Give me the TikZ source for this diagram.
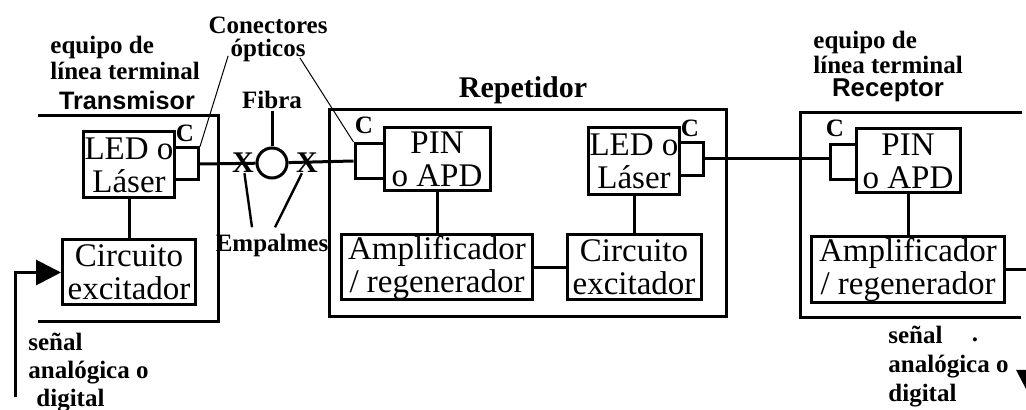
\documentclass[tikz,border=0pt]{standalone}
\usepackage{fontspec}
\setmainfont{Liberation Serif}
\setsansfont{Liberation Sans}
\usetikzlibrary{arrows.meta}

\newcommand{\cajafont}{\fontsize{16.5}{16.5}\selectfont}
\newcommand{\etifont}{\bfseries\fontsize{12.5}{13}\selectfont}

\begin{document}
\begin{tikzpicture}[x=0.5pt, y=-0.5pt]
  \tikzset{
    caja/.style 2 args={draw, line width=1.5pt, inner sep=0pt, align=center, font=\cajafont, minimum width=#1, minimum height=#2},
    conector/.style 2 args={draw, line width=1.5pt, inner sep=0pt, minimum width=#1, minimum height=#2},
    etiqueta/.style={inner sep=1pt, font=\etifont},
    empalme/.style={inner sep=0pt, font=\bfseries\fontsize{15}{15}\selectfont},
    marco/.style={line width=1.5pt},
    enlace/.style={line width=1.5pt},
    guia/.style={line width=0.5pt},
    flecha/.style={line width=1.5pt, -{Triangle[length=12.5pt, width=12.5pt]}}
  }

  \useasboundingbox (0,0) rectangle (1026,410);

  % Equipo de linea terminal: transmisor
  \draw[marco] (38,116) -- (218,116) -- (218,322) -- (38,322);
  \node[etiqueta, align=left, anchor=west] (eqtx) at (48,58) {equipo de\\línea terminal};
  \node[etiqueta, font=\sffamily\bfseries\fontsize{12.6}{13}\selectfont] (tx) at (127,100) {Transmisor};
  \node[caja={45.5pt}{33pt}] (led1) at (129,165) {LED o\\Láser};
  \node[conector={12pt}{16pt}] (con1) at (186.5,164) {};
  \node[etiqueta] (c1) at (185,133) {C};
  \node[caja={66.5pt}{32.5pt}] (exc1) at (129,272.5) {Circuito\\excitador};
  \draw[enlace] (led1) -- (exc1);

  % Entrada de senal
  \coordinate (ent) at (15,397);
  \draw[flecha] (ent) |- (exc1.west);
  \node[etiqueta, align=left, anchor=west, font=\bfseries\fontsize{12.5}{14}\selectfont] (senent) at (26,373) {señal\\analógica o\\\hspace*{4pt}digital};

  % Repetidor
  \draw[marco] (329,110) rectangle (726,317);
  \node[etiqueta, font=\bfseries\fontsize{15}{15}\selectfont] (rep) at (523,90) {Repetidor};
  \node[conector={14.5pt}{17.5pt}] (con2) at (369.5,161) {};
  \node[etiqueta] (c2) at (364,125) {C};
  \node[caja={53pt}{31.5pt}] (pin2) at (437,159.5) {PIN\\o APD};
  \node[caja={95.5pt}{32.5pt}] (amp2) at (437,267.5) {Amplificador\\/ regenerador};
  \node[caja={67pt}{32.5pt}] (exc2) at (634,267.5) {Circuito\\excitador};
  \node[caja={45.5pt}{33.5pt}] (led2) at (634,161.5) {LED o\\Láser};
  \node[conector={12pt}{16.5pt}] (con3) at (691.5,159) {};
  \node[etiqueta] (c3) at (690,128) {C};
  \draw[enlace] (pin2) -- (amp2);
  \draw[enlace] (amp2) -- (exc2);
  \draw[enlace] (led2) -- (exc2);

  % Equipo de linea terminal: receptor
  \draw[marco] (1022,113) -- (800,113) -- (800,318) -- (1021,318);
  \node[etiqueta, align=left, anchor=west, font=\bfseries\fontsize{12.5}{12.5}\selectfont] (eqrx) at (811,52) {equipo de\\línea terminal};
  \node[etiqueta, font=\sffamily\bfseries\fontsize{12.9}{13}\selectfont] (rx) at (888,90) {Receptor};
  \node[conector={13pt}{17.5pt}] (con4) at (843,162) {};
  \node[etiqueta] (c4) at (835,128) {C};
  \node[caja={52pt}{32pt}] (pin4) at (908,161) {PIN\\o APD};
  \node[caja={96.5pt}{33pt}] (amp4) at (908,270) {Amplificador\\/ regenerador};
  \draw[enlace] (pin4) -- (amp4);

  % Salida de senal
  \coordinate (sal) at (1029,395);
  \draw[flecha] (amp4.east) -| (sal);
  \node[etiqueta, align=left, anchor=west, font=\bfseries\fontsize{12.5}{14.5}\selectfont] (sensal) at (886,367) {señal\\analógica o\\digital};
  \node[etiqueta] (punto) at (975,340) {.};

  % Fibra, empalmes y conectores
  \node[draw, circle, line width=1.5pt, minimum size=15pt, inner sep=0pt] (bob) at (272,163) {};
  \node[empalme] (empL) at (243,163) {X};
  \node[empalme] (empR) at (307,163) {X};
  \draw[enlace] (con1.east) -- (bob) -- (con2.west);
  \draw[enlace] (con3.east) -- (con3.east -| con4.west);
  \node[etiqueta] (fibra) at (272,100) {Fibra};
  \draw[enlace] (fibra) -- (bob);
  \node[etiqueta] (empalmes) at (272,245) {Empalmes};
  \draw[line width=1.2pt] (empL) -- ([xshift=-10pt, yshift=2pt]empalmes.north);
  \draw[line width=1.2pt] (empR) -- ([xshift=1.5pt, yshift=2pt]empalmes.north);
  \node[etiqueta, align=center, font=\bfseries\fontsize{12.5}{11.5}\selectfont] (conect) at (268,39) {Conectores\\ópticos};
  \draw[guia] ([xshift=11pt, yshift=4pt]conect.south west) -- (con1.north east);
  \draw[guia] ([xshift=-15pt, yshift=3pt]conect.south east) -- (con2.north west);
\end{tikzpicture}
\end{document}
